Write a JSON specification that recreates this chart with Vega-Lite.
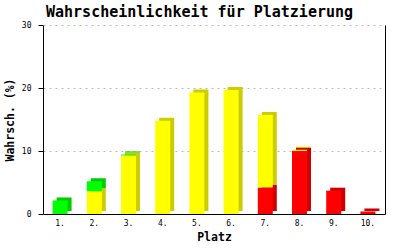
{
  "$schema": "https://vega.github.io/schema/vega-lite/v6.json",
  "width": 342,
  "height": 189,
  "autosize": {"type": "none"},
  "padding": {"left": 43, "top": 25, "right": 15, "bottom": 36},
  "background": "white",
  "title": {
    "text": "Wahrscheinlichkeit für Platzierung",
    "font": "DejaVu Sans Mono",
    "fontSize": 15,
    "fontWeight": "bold",
    "color": "black",
    "anchor": "start",
    "frame": "group",
    "dx": 3,
    "dy": 15,
    "baseline": "alphabetic",
    "offset": 4
  },
  "config": {
    "view": {"stroke": null},
    "axis": {
      "labelFont": "DejaVu Sans Mono",
      "labelFontSize": 8,
      "labelColor": "black",
      "titleFont": "DejaVu Sans Mono",
      "titleFontSize": 11.5,
      "titleFontWeight": "bold",
      "titleColor": "black",
      "domainColor": "black",
      "tickColor": "black"
    }
  },
  "data": {
    "values": [
      {"platz": "1.", "farbe": "grün", "stufe": 3, "wert": 2.15},
      {"platz": "2.", "farbe": "gelb", "stufe": 2, "wert": 3.6},
      {"platz": "2.", "farbe": "grün", "stufe": 3, "wert": 1.6},
      {"platz": "3.", "farbe": "gelb", "stufe": 2, "wert": 9.3},
      {"platz": "3.", "farbe": "grün", "stufe": 3, "wert": 0.15},
      {"platz": "4.", "farbe": "gelb", "stufe": 2, "wert": 14.8},
      {"platz": "5.", "farbe": "gelb", "stufe": 2, "wert": 19.3},
      {"platz": "6.", "farbe": "gelb", "stufe": 2, "wert": 19.7},
      {"platz": "7.", "farbe": "rot", "stufe": 1, "wert": 4.2},
      {"platz": "7.", "farbe": "gelb", "stufe": 2, "wert": 11.5},
      {"platz": "8.", "farbe": "rot", "stufe": 1, "wert": 10.0},
      {"platz": "8.", "farbe": "gelb", "stufe": 2, "wert": 0.2},
      {"platz": "9.", "farbe": "rot", "stufe": 1, "wert": 3.7},
      {"platz": "10.", "farbe": "rot", "stufe": 1, "wert": 0.4}
    ]
  },
  "encoding": {
    "x": {
      "field": "platz",
      "type": "nominal",
      "sort": null,
      "scale": {"paddingInner": 0, "paddingOuter": 0},
      "axis": {
        "title": "Platz",
        "labelAngle": 0,
        "ticks": false,
        "labelPadding": 5,
        "titlePadding": 4,
        "grid": false
      }
    },
    "order": {"field": "stufe", "type": "quantitative"}
  },
  "layer": [
    {
      "mark": {"type": "bar", "size": 15, "xOffset": 4, "yOffset": -3},
      "encoding": {
        "y": {
          "field": "wert",
          "type": "quantitative",
          "stack": "zero",
          "scale": {"domain": [0, 30], "nice": false},
          "axis": {
            "title": "Wahrsch. (%)",
            "values": [0, 10, 20, 30],
            "tickSize": 5,
            "labelPadding": 7,
            "titlePadding": 6,
            "grid": true,
            "gridColor": "#bbbbbb",
            "gridDash": [2, 4],
            "domain": true
          }
        },
        "color": {
          "field": "farbe",
          "type": "nominal",
          "scale": {"domain": ["rot", "gelb", "grün"], "range": ["#cc0000", "#cccc00", "#00cc00"]},
          "legend": null
        }
      }
    },
    {
      "mark": {"type": "bar", "size": 15},
      "encoding": {
        "y": {
          "field": "wert",
          "type": "quantitative",
          "stack": "zero",
          "axis": {
            "orient": "right",
            "title": null,
            "labels": false,
            "ticks": false,
            "grid": false,
            "domain": true
          }
        },
        "color": {
          "field": "farbe",
          "type": "nominal",
          "scale": {"domain": ["rot", "gelb", "grün"], "range": ["#ff0000", "#ffff00", "#00ff00"]},
          "legend": null
        }
      }
    }
  ],
  "resolve": {"scale": {"color": "independent"}, "axis": {"y": "independent"}}
}
